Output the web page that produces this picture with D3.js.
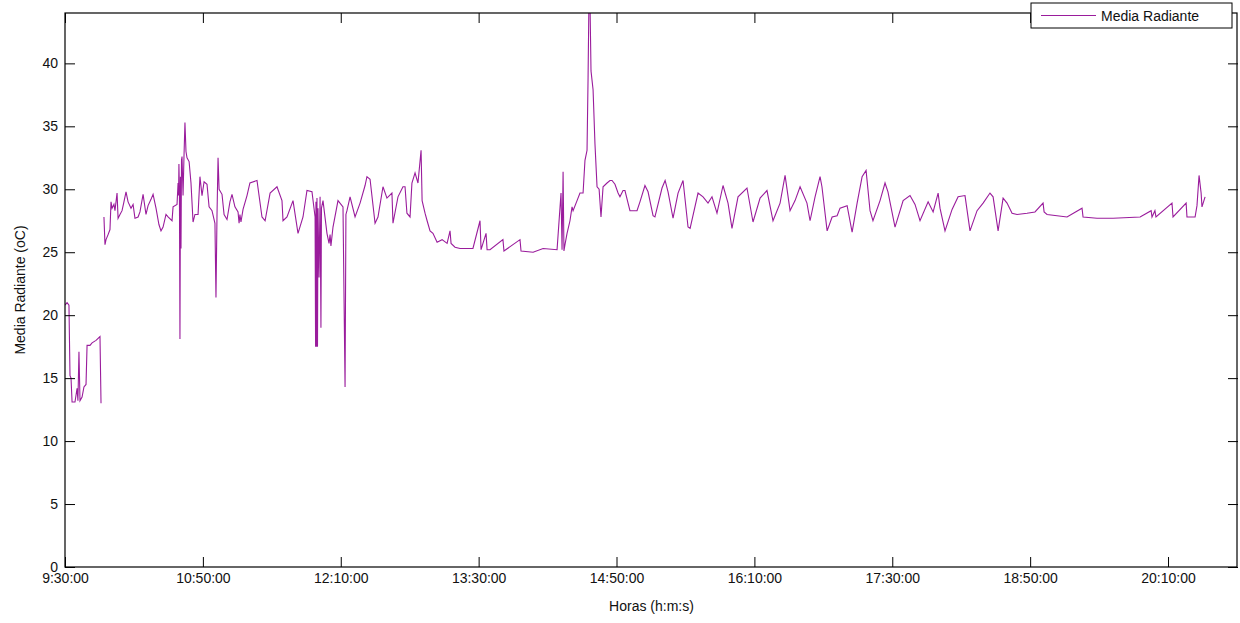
<!DOCTYPE html>
<html>
<head>
<meta charset="utf-8">
<script src="https://cdn.jsdelivr.net/npm/d3@7"></script>
<style>
  body { margin: 0; background: #fff; }
  text { font-family: "Liberation Sans", Arial, sans-serif; fill: #111; }
</style>
</head>
<body>
<div id="chart"></div>
<script>
// minutes after 9:30:00 and mean radiant temperature (oC); null = gap in the record
var minutos = [
  0, 1.2, 2.3, 2.9, 3.5, 4.1, 5.8, 7.0, 7.5, 8.1, 8.7, 9.9, 11.0, 12.2, 12.8, 14.5, 15.7, 18.0, 20.3, 20.9,
  21.7,
  22.6, 23.2, 23.8, 25.0, 26.1, 26.7, 27.3, 28.4, 29.0, 30.2, 30.8, 31.9, 33.1, 34.2, 35.4, 36.6, 38.3, 39.5, 40.6, 42.4,
  43.5, 45.3, 47.0, 48.2, 49.9, 51.1, 52.8, 54.5, 55.7, 56.9, 58.6, 59.8, 62.1, 62.7, 65.0, 65.6, 65.9, 66.1, 66.4, 66.7,
  67.0, 67.3, 67.6, 67.9, 68.5, 69.0, 69.6, 70.2, 70.8, 72.0, 73.1, 74.3, 75.4, 77.2, 78.3, 79.5, 80.7, 82.4, 83.6, 85.3,
  87.0, 87.6, 88.2, 88.8, 89.4, 91.1, 92.3, 94.0, 95.7, 96.9, 98.6, 100.4, 101.0, 101.5, 102.1, 103.3, 105.6, 107.3, 111.4, 114.3,
  116.1, 119.0, 123.0, 125.9, 126.5, 128.8, 132.3, 135.2, 138.1, 140.4, 143.3, 145.1, 145.4, 145.6, 145.9, 146.2, 146.5, 146.8, 147.4, 148.0,
  148.5, 148.8, 149.7, 152.0, 153.2, 153.8, 154.3, 155.5, 158.4, 161.3, 162.5, 163.0, 163.6, 165.4, 168.3, 171.2, 174.1, 175.2, 177.0, 179.9,
  181.6, 184.5, 186.8, 189.7, 190.3, 193.2, 196.1, 197.3, 198.4, 200.2, 201.3, 203.1, 204.8, 206.6, 207.2, 208.9, 210.1, 211.8, 213.5, 215.9,
  218.8, 221.7, 223.4, 224.0, 226.3, 229.2, 236.7, 240.8, 241.4, 244.3, 244.9, 246.6, 254.1, 254.7, 264.0, 264.6, 271.6, 277.4, 285.5, 287.8,
  288.4, 289.0, 289.5, 290.1, 291.3, 293.0, 294.2, 294.8, 297.1, 298.8, 300.6, 301.7, 302.9, 303.5, 304.0, 304.6, 305.2, 306.4, 307.5, 308.7,
  309.9, 311.0, 312.2, 314.5, 316.2, 317.4, 319.1, 320.9, 322.0, 323.8, 324.9, 326.7, 327.8, 331.9, 333.6, 336.5, 338.3, 341.2, 342.3, 346.4,
  348.2, 349.9, 352.8, 355.7, 358.6, 361.5, 362.7, 367.3, 370.2, 373.1, 375.4, 378.3, 381.8, 384.7, 387.0, 390.5, 395.7, 399.2, 403.3, 407.3,
  410.8, 414.9, 417.8, 420.7, 423.6, 426.5, 430.5, 432.3, 435.2, 438.1, 439.2, 442.2, 445.1, 448.0, 449.7, 453.8, 456.7, 459.6, 462.5, 464.8,
  467.1, 468.8, 472.9, 475.8, 477.5, 481.6, 486.3, 490.3, 493.2, 496.1, 500.8, 503.7, 506.6, 507.7, 510.6, 514.7, 518.2, 522.2, 525.1, 529.2,
  532.7, 536.7, 538.5, 541.4, 544.3, 546.6, 549.5, 552.4, 558.2, 562.8, 567.5, 568.1, 569.8, 575.6, 581.4, 590.1, 590.7, 598.8, 608.1, 623.8,
  630.2, 630.7, 632.4, 633.0, 642.3, 642.9, 650.5, 651.0, 655.7, 656.8, 658.0, 659.2, 659.7, 661.5
];

var radiante = [
  20.8, 21.0, 20.8, 15.2, 15.0, 13.1, 13.1, 14.2, 13.2, 17.1, 13.2, 13.5, 14.3, 14.5, 17.6, 17.6, 17.8, 18.0, 18.3, 13.0,
  null,
  27.8, 25.6, 26.0, 26.4, 26.8, 29.0, 28.5, 28.8, 28.3, 29.7, 27.7, 28.0, 28.3, 29.0, 29.8, 29.0, 28.5, 28.8, 27.7, 27.8,
  28.2, 29.6, 28.0, 28.7, 29.2, 29.6, 28.5, 27.2, 26.7, 27.0, 28.0, 27.8, 27.5, 28.6, 28.8, 30.5, 29.5, 32.0, 29.8, 18.1,
  31.0, 25.3, 32.3, 32.6, 29.5, 32.4, 35.3, 33.0, 32.5, 32.2, 30.5, 27.4, 28.0, 28.0, 31.0, 29.5, 30.6, 30.4, 28.6, 28.3,
  27.3, 21.4, 28.0, 32.5, 30.0, 29.6, 28.0, 27.6, 29.0, 29.6, 28.6, 28.2, 27.3, 28.0, 27.4, 28.4, 29.5, 30.5, 30.7, 27.8,
  27.5, 29.7, 30.2, 29.1, 27.5, 27.8, 29.1, 26.5, 27.8, 29.9, 29.8, 27.8, 17.5, 29.0, 17.5, 29.3, 17.5, 28.5, 23.0, 29.4,
  19.0, 28.5, 29.1, 26.5, 25.7, 26.4, 25.5, 27.0, 29.1, 28.6, 14.3, 28.0, 28.3, 29.4, 27.8, 28.9, 30.3, 31.0, 30.8, 27.3,
  27.8, 30.2, 29.3, 29.7, 27.3, 29.4, 30.2, 30.2, 28.1, 27.8, 30.5, 31.3, 30.5, 33.1, 29.1, 28.1, 27.5, 26.7, 26.5, 25.8,
  26.0, 25.7, 26.7, 25.7, 25.4, 25.3, 25.3, 27.5, 25.2, 26.5, 25.2, 25.2, 26.0, 25.1, 26.0, 25.1, 25.0, 25.3, 25.2, 29.7,
  25.2, 31.4, 25.1, 25.6, 26.5, 27.5, 28.6, 28.3, 29.1, 29.7, 29.7, 32.3, 33.1, 38.9, 45.0, 45.0, 39.4, 37.9, 33.6, 30.2,
  30.0, 27.8, 30.2, 30.5, 30.7, 30.7, 30.4, 29.7, 29.4, 29.9, 29.9, 28.9, 28.3, 28.3, 29.0, 30.3, 29.8, 27.9, 27.8, 30.1,
  30.7, 29.8, 27.7, 29.7, 30.7, 27.0, 26.9, 29.7, 29.4, 28.9, 29.4, 28.1, 30.3, 28.9, 26.9, 29.4, 30.1, 27.4, 29.3, 29.9,
  27.5, 28.9, 31.1, 28.3, 29.1, 30.2, 28.9, 27.5, 29.4, 31.0, 30.2, 26.7, 27.8, 27.9, 28.5, 28.7, 26.6, 28.9, 31.0, 31.5,
  28.3, 27.5, 29.1, 30.5, 29.8, 27.0, 29.1, 29.5, 28.8, 27.5, 29.0, 28.2, 29.7, 28.5, 26.7, 28.4, 29.4, 29.5, 26.7, 28.3,
  28.9, 29.7, 29.4, 26.7, 29.3, 28.9, 28.1, 28.0, 28.1, 28.2, 28.9, 28.2, 28.0, 27.9, 27.8, 28.5, 27.8, 27.7, 27.7, 27.8,
  28.3, 27.8, 28.3, 27.8, 28.9, 27.8, 28.9, 27.8, 27.8, 28.7, 31.1, 29.7, 28.6, 29.4
];

var horasTicks = ["9:30:00", "10:50:00", "12:10:00", "13:30:00", "14:50:00", "16:10:00", "17:30:00", "18:50:00", "20:10:00"];
var yTicks = [0, 5, 10, 15, 20, 25, 30, 35, 40];

var width = 1240, height = 623;
var margin = {top: 13, right: 2, bottom: 56, left: 65};
var color = "#9a1c9c";

var parse = d3.timeParse("%H:%M:%S");
var t0 = parse("9:30:00");

var data = minutos.map(function(m, i) {
  return {t: new Date(+t0 + m * 60000), v: radiante[i]};
});

var svg = d3.select("#chart").append("svg")
  .attr("width", width)
  .attr("height", height);

var x = d3.scaleTime()
  .domain([t0, parse("20:50:36")])
  .range([margin.left, width - margin.right]);

var y = d3.scaleLinear()
  .domain([0, 44])
  .range([height - margin.bottom, margin.top]);

svg.append("clipPath").attr("id", "plot")
  .append("rect")
  .attr("x", margin.left)
  .attr("y", margin.top)
  .attr("width", width - margin.left - margin.right)
  .attr("height", height - margin.top - margin.bottom);

var line = d3.line()
  .defined(function(d) { return d.v !== null; })
  .x(function(d) { return x(d.t); })
  .y(function(d) { return y(d.v); });

svg.append("path")
  .datum(data)
  .attr("clip-path", "url(#plot)")
  .attr("fill", "none")
  .attr("stroke", color)
  .attr("stroke-width", 1.1)
  .attr("d", line);

var tickDates = horasTicks.map(parse);

// bottom axis (ticks pointing inward)
var gx = svg.append("g")
  .attr("transform", "translate(0," + (height - margin.bottom) + ")")
  .call(d3.axisBottom(x).tickValues(tickDates).tickFormat(d3.timeFormat("%-H:%M:%S"))
    .tickSizeInner(-10).tickSizeOuter(0).tickPadding(6));

var gxTop = svg.append("g")
  .attr("transform", "translate(0," + margin.top + ")")
  .call(d3.axisTop(x).tickValues(tickDates).tickFormat("")
    .tickSizeInner(-10).tickSizeOuter(0));

var gy = svg.append("g")
  .attr("transform", "translate(" + margin.left + ",0)")
  .call(d3.axisLeft(y).tickValues(yTicks).tickSizeInner(-10).tickSizeOuter(0).tickPadding(7));

var gyRight = svg.append("g")
  .attr("transform", "translate(" + (width - margin.right) + ",0)")
  .call(d3.axisRight(y).tickValues(yTicks).tickFormat("").tickSizeInner(-10).tickSizeOuter(0));

[gx, gxTop, gy, gyRight].forEach(function(g) {
  g.select(".domain").remove();
  g.selectAll("line").attr("stroke", "#000");
  g.selectAll("text").style("font-size", "14px").attr("fill", "#111");
});

// frame
svg.append("rect")
  .attr("x", margin.left)
  .attr("y", margin.top)
  .attr("width", width - margin.left - margin.right - 1)
  .attr("height", height - margin.top - margin.bottom)
  .attr("fill", "none")
  .attr("stroke", "#000")
  .attr("stroke-width", 1.2);

// axis titles
svg.append("text")
  .attr("x", (margin.left + width - margin.right) / 2)
  .attr("y", 611)
  .attr("text-anchor", "middle")
  .style("font-size", "14px")
  .text("Horas (h:m:s)");

svg.append("text")
  .attr("transform", "translate(25," + ((margin.top + height - margin.bottom) / 2) + ") rotate(-90)")
  .attr("text-anchor", "middle")
  .style("font-size", "14px")
  .text("Media Radiante (oC)");

// legend
var lg = svg.append("g");
lg.append("rect")
  .attr("x", 1031).attr("y", 3)
  .attr("width", 201).attr("height", 25)
  .attr("fill", "#fff")
  .attr("stroke", "#000");
lg.append("line")
  .attr("x1", 1041).attr("x2", 1096)
  .attr("y1", 15.5).attr("y2", 15.5)
  .attr("stroke", color);
lg.append("text")
  .attr("x", 1101).attr("y", 20.5)
  .style("font-size", "14px")
  .text("Media Radiante");
</script>
</body>
</html>
